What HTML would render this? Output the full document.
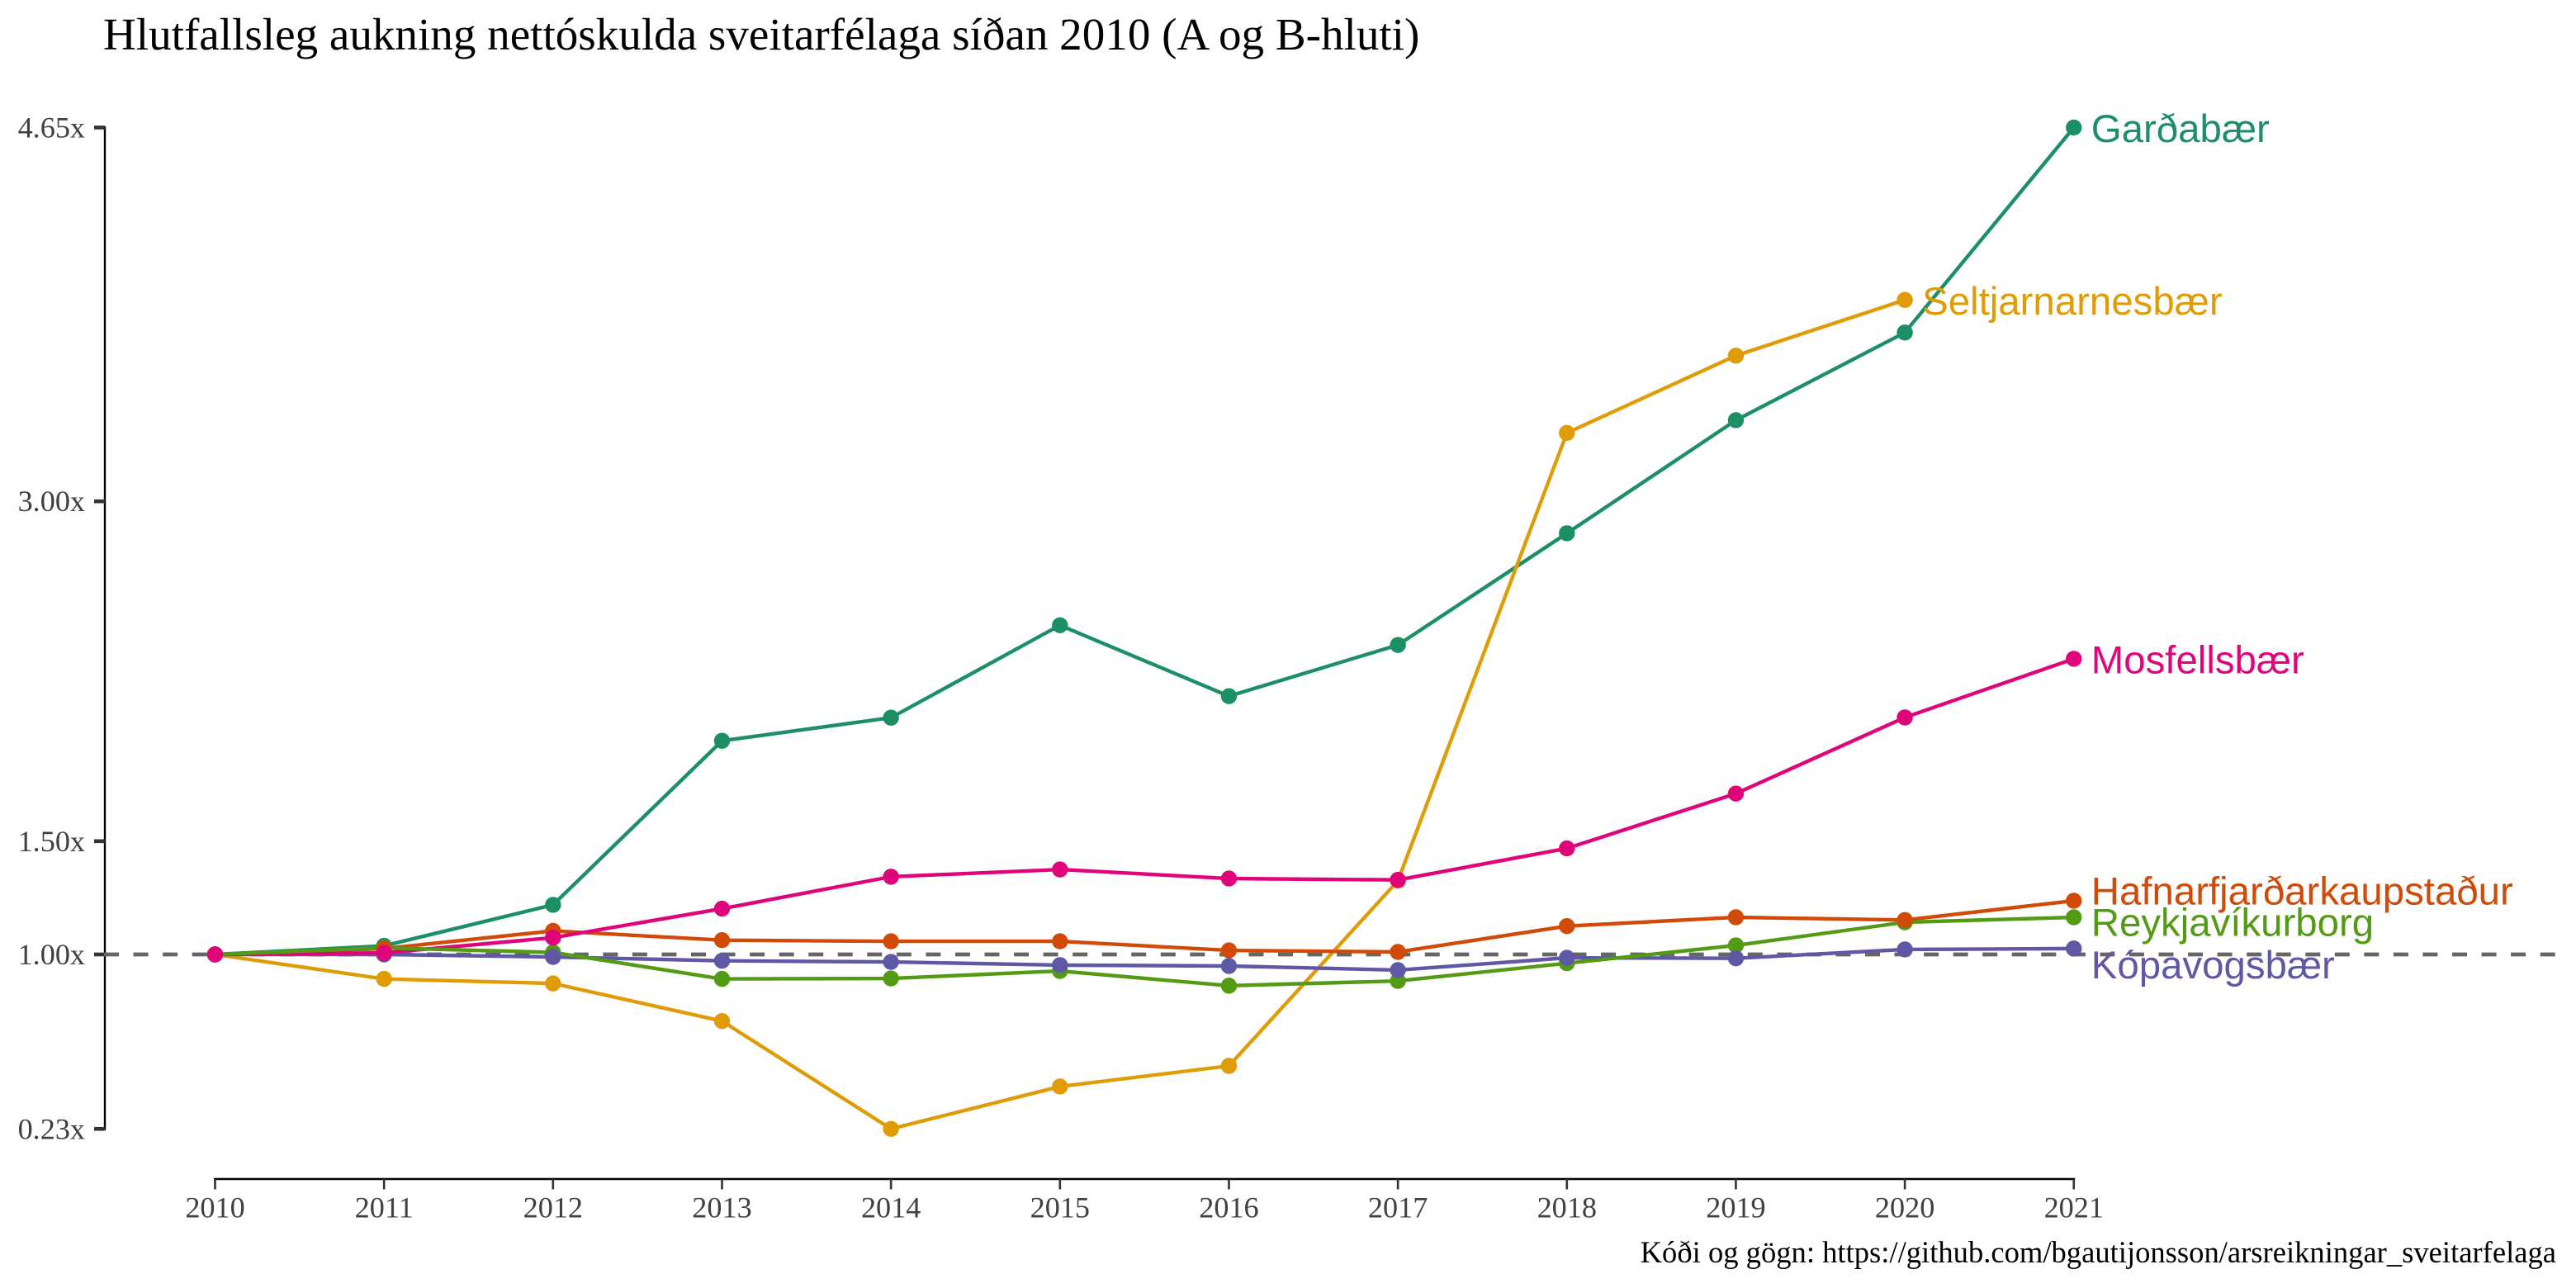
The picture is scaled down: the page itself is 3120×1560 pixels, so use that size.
<!DOCTYPE html>
<html lang="is">
<head>
<meta charset="utf-8">
<title>Hlutfallsleg aukning nettóskulda sveitarfélaga</title>
<style>
html,body{margin:0;padding:0;background:#fff;}
svg{display:block;}
.serif{font-family:"Liberation Serif",serif;}
.sans{font-family:"Liberation Sans",sans-serif;}
</style>
</head>
<body>
<svg id="chart" xmlns="http://www.w3.org/2000/svg" width="3120" height="1560" viewBox="0 0 3120 1560">
  <rect x="0" y="0" width="3120" height="1560" fill="#ffffff"/>
  <text class="serif" x="125" y="60" font-size="55.1" fill="#000000">Hlutfallsleg aukning nettóskulda sveitarfélaga síðan 2010 (A og B-hluti)</text>
  <text class="serif" x="3096" y="1529" font-size="36.6" fill="#000000" text-anchor="end">Kóði og gögn: https://github.com/bgautijonsson/arsreikningar_sveitarfelaga</text>
  <g id="axes"></g>
  <g id="lines"></g>
  <g id="points"></g>
  <g id="labels"></g>
</svg>
<script>
const years = [2010, 2011, 2012, 2013, 2014, 2015, 2016, 2017, 2018, 2019, 2020, 2021];
const yTickValues = [0.23, 1, 1.5, 3, 4.65];
const yTickLabels = ["0.23x", "1.00x", "1.50x", "3.00x", "4.65x"];

const gardabaer = [1, 1.038, 1.219, 1.943, 2.045, 2.453, 2.140, 2.366, 2.859, 3.358, 3.745, 4.65];
const seltjarnarnes = [1, 0.892, 0.872, 0.706, 0.23, 0.417, 0.508, 1.325, 3.302, 3.643, 3.889];
const mosfellsbaer = [1, 1.007, 1.074, 1.202, 1.343, 1.375, 1.335, 1.329, 1.468, 1.710, 2.046, 2.305];
const hafnarfjordur = [1, 1.026, 1.104, 1.063, 1.058, 1.058, 1.018, 1.011, 1.125, 1.164, 1.152, 1.237];
const reykjavik = [1, 1.029, 1.009, 0.892, 0.894, 0.927, 0.862, 0.883, 0.961, 1.040, 1.142, 1.164];
const kopavogur = [1, 1.0, 0.989, 0.972, 0.967, 0.953, 0.949, 0.931, 0.985, 0.983, 1.022, 1.026];

const NS = "http://www.w3.org/2000/svg";
const axesG = document.getElementById("axes");
const linesG = document.getElementById("lines");
const pointsG = document.getElementById("points");
const labelsG = document.getElementById("labels");

function xScale(year) {
  return 260.5 + (year - 2010) * 204.66;
}
function yScale(value) {
  return 1156 - (value - 1) * 274.4;
}
function make(tag, attrs, parent) {
  const el = document.createElementNS(NS, tag);
  for (const key in attrs) el.setAttribute(key, attrs[key]);
  parent.appendChild(el);
  return el;
}

// Y axis
const yAxisLine = make("line", {x1: 127, x2: 127, y1: yScale(4.65) - 1.5, y2: yScale(0.23) + 1.5, stroke: "#000", "stroke-width": 2.4}, axesG);


yTickValues.forEach(function (value, i) {
  const tick = make("line", {x1: 114, x2: 127, y1: yScale(value), y2: yScale(value), stroke: "#333333", "stroke-width": 4.6}, axesG);
  
  
  const label = make("text", {x: 103, y: yScale(value) + 12, "font-size": 36.2, fill: "#404040", "text-anchor": "end", "class": "serif"}, axesG);
  
  
  label.textContent = yTickLabels[i];
});

// X axis
const xAxisLine = make("line", {x1: xScale(years[0]) - 1.5, x2: xScale(years[years.length - 1]) + 1.5, y1: 1428, y2: 1428, stroke: "#000", "stroke-width": 2.4}, axesG);


years.forEach(function (year) {
  const tick = make("line", {x1: xScale(year), x2: xScale(year), y1: 1428, y2: 1440.5, stroke: "#333333", "stroke-width": 2.6}, axesG);
  
  
  const label = make("text", {x: xScale(year), y: 1474.5, "font-size": 36.2, fill: "#404040", "text-anchor": "middle", "class": "serif"}, axesG);
  
  
  label.textContent = year;
});

// Reference line at 1.00x
const refLine = make("line", {x1: 126, x2: 3097, y1: yScale(1), y2: yScale(1), stroke: "#666666", "stroke-width": 4.8, "stroke-dasharray": "18 17.55"}, axesG);



function drawLine(values, color, slug) {
  const d = values.map(function (v, i) {
    return (i ? "L" : "M") + xScale(years[i]).toFixed(2) + " " + yScale(v).toFixed(2);
  }).join(" ");
  const path = make("path", {d: d, fill: "none", stroke: color, "stroke-width": 4.4, "stroke-linejoin": "round"}, linesG);
  
  
}
function drawPoints(values, color, slug) {
  values.forEach(function (v, i) {
    const dot = make("circle", {cx: xScale(years[i]), cy: yScale(v), r: 9.7, fill: color}, pointsG);
    
    
  });
}
function drawLabel(values, color, slug, text, baselineOffset) {
  const last = values.length - 1;
  const label = make("text", {x: xScale(years[last]) + 21, y: yScale(values[last]) + baselineOffset, "font-size": 47.4, fill: color, "class": "sans"}, labelsG);
  
  
  label.textContent = text;
}

const colTeal = "#1c8f64", colAmber = "#e09c06", colPurple = "#5e58a5", colOrange = "#d14a08", colPink = "#e0047a", colGreen = "#549b15";

drawLine(gardabaer, colTeal, "gardabaer");
drawLine(seltjarnarnes, colAmber, "seltjarnarnes");
drawLine(kopavogur, colPurple, "kopavogur");
drawLine(hafnarfjordur, colOrange, "hafnarfjordur");
drawLine(mosfellsbaer, colPink, "mosfellsbaer");
drawLine(reykjavik, colGreen, "reykjavik");

drawPoints(gardabaer, colTeal, "gardabaer");
drawPoints(seltjarnarnes, colAmber, "seltjarnarnes");
drawPoints(reykjavik, colGreen, "reykjavik");
drawPoints(hafnarfjordur, colOrange, "hafnarfjordur");
drawPoints(kopavogur, colPurple, "kopavogur");
drawPoints(mosfellsbaer, colPink, "mosfellsbaer");

drawLabel(gardabaer, colTeal, "gardabaer", "Garðabær", 17.5);
drawLabel(seltjarnarnes, colAmber, "seltjarnarnes", "Seltjarnarnesbær", 17.7);
drawLabel(mosfellsbaer, colPink, "mosfellsbaer", "Mosfellsbær", 17.7);
drawLabel(hafnarfjordur, colOrange, "hafnarfjordur", "Hafnarfjarðarkaupstaður", 4.5);
drawLabel(reykjavik, colGreen, "reykjavik", "Reykjavíkurborg", 22.5);
drawLabel(kopavogur, colPurple, "kopavogur", "Kópavogsbær", 36);
</script>
</body>
</html>
